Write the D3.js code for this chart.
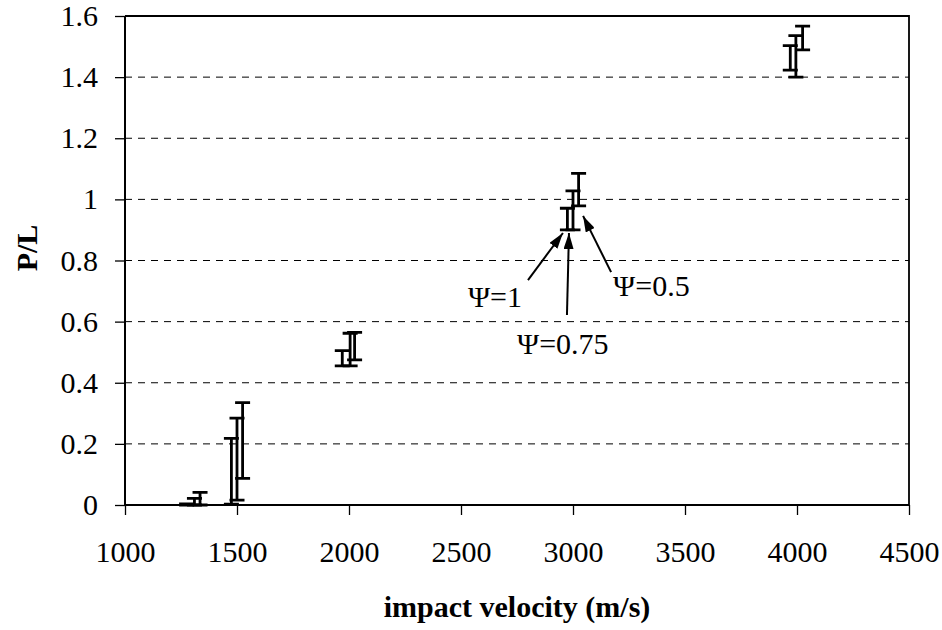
<!DOCTYPE html>
<html>
<head>
<meta charset="utf-8">
<script src="https://cdn.jsdelivr.net/npm/d3@7"></script>
</head>
<body style="margin:0">
<svg id="chart" width="942" height="630"></svg>
<script>
// Penetration depth ratio P/L versus impact velocity, one series per shape factor Ψ.
// Each series gives the velocity and the lower / upper end of its range bar.
const seriesNames = ["Ψ=1", "Ψ=0.75", "Ψ=0.5"];

const velocityPsi1 = [1275, 1475, 1970, 2975, 3970];
const lowPsi1      = [0.000, 0.003, 0.455, 0.900, 1.423];
const highPsi1     = [0.004, 0.218, 0.505, 0.971, 1.503];

const velocityPsi075 = [1310, 1500, 2005, 3000, 3995];
const lowPsi075      = [0.000, 0.016, 0.455, 0.900, 1.400];
const highPsi075     = [0.022, 0.284, 0.562, 1.028, 1.536];

const velocityPsi05 = [1335, 1525, 2025, 3025, 4025];
const lowPsi05      = [0.000, 0.087, 0.475, 0.979, 1.489];
const highPsi05     = [0.041, 0.335, 0.565, 1.085, 1.567];

const xTicks = [1000, 1500, 2000, 2500, 3000, 3500, 4000, 4500];
const yTicks = [0, 0.2, 0.4, 0.6, 0.8, 1, 1.2, 1.4, 1.6];

const xTitle = "impact velocity (m/s)";
const yTitle = "P/L";

const FONT = "'Liberation Serif'";

// Build one record per range bar.
const series = [
  { name: seriesNames[0], v: velocityPsi1, lo: lowPsi1, hi: highPsi1 },
  { name: seriesNames[1], v: velocityPsi075, lo: lowPsi075, hi: highPsi075 },
  { name: seriesNames[2], v: velocityPsi05, lo: lowPsi05, hi: highPsi05 }
];
const bars = series.flatMap(s => s.v.map((v, i) => ({ name: s.name, v, lo: s.lo[i], hi: s.hi[i] })));

const svg = d3.select("#chart");
const margin = { left: 125, right: 33, top: 16, bottom: 125 };
const W = 942, H = 630;

const x = d3.scaleLinear().domain([1000, 4500]).range([margin.left, W - margin.right]);
const y = d3.scaleLinear().domain([0, 1.6]).range([H - margin.bottom, margin.top]);

// Dashed horizontal grid lines
svg.append("g")
  .selectAll("line")
  .data(yTicks.filter(t => t > 0 && t < 1.6))
  .join("line")
  .attr("x1", x(1000)).attr("x2", x(4500))
  .attr("y1", d => y(d)).attr("y2", d => y(d))
  .attr("stroke", "#000").attr("stroke-width", 1)
  .attr("stroke-dasharray", "7,6");

// Frame top / right
svg.append("path")
  .attr("d", `M${x(1000)},${y(1.6)}H${x(4500)}V${y(0)}`)
  .attr("fill", "none").attr("stroke", "#000").attr("stroke-width", 1.8);

// Axes
const fmtY = d => d3.format("~g")(d);
const xAxis = svg.append("g")
  .attr("transform", `translate(0,${y(0)})`)
  .call(d3.axisBottom(x).tickValues(xTicks).tickSize(10).tickPadding(26).tickFormat(d3.format("d")));
const yAxis = svg.append("g")
  .attr("transform", `translate(${x(1000)},0)`)
  .call(d3.axisLeft(y).tickValues(yTicks).tickSize(10).tickPadding(17).tickFormat(fmtY));

[xAxis, yAxis].forEach(g => {
  g.attr("font-family", null).attr("font-size", null);
  g.select(".domain").attr("stroke", "#000").attr("stroke-width", 2);
  g.selectAll(".tick line").attr("stroke", "#000").attr("stroke-width", 1.3);
  g.selectAll(".tick text")
    .attr("fill", "#000")
    .style("font-family", FONT)
    .style("font-size", "30px");
});
xAxis.select(".domain").attr("d", `M${x(1000)},0H${x(4500)}`);
yAxis.select(".domain").attr("d", `M0,${y(0)}V${y(1.6)}`);

// Range bars with end caps
const capHalf = 7.5;
const barG = svg.append("g").attr("stroke", "#000").attr("stroke-width", 2.8).attr("fill", "none");
barG.selectAll("path")
  .data(bars)
  .join("path")
  .attr("d", d => {
    const cx = x(d.v), y1 = y(d.hi), y0 = y(d.lo);
    return `M${cx},${y0}V${y1}M${cx - capHalf},${y1}H${cx + capHalf}M${cx - capHalf},${y0}H${cx + capHalf}`;
  });

// Axis titles
svg.append("text")
  .attr("x", (x(1000) + x(4500)) / 2).attr("y", 617)
  .attr("text-anchor", "middle")
  .style("font-family", FONT)
  .style("font-size", "30px").style("font-weight", "bold")
  .text(xTitle);

svg.append("text")
  .attr("transform", "translate(37,248) rotate(-90)")
  .attr("text-anchor", "middle")
  .style("font-family", FONT)
  .style("font-size", "30px").style("font-weight", "bold")
  .text(yTitle);

// Annotations: labels and arrows pointing at the bars near 3000 m/s
const defs = svg.append("defs");
defs.append("marker")
  .attr("id", "arrowhead")
  .attr("markerUnits", "userSpaceOnUse")
  .attr("viewBox", "0 0 16 10")
  .attr("refX", 16).attr("refY", 5)
  .attr("markerWidth", 16).attr("markerHeight", 10)
  .attr("orient", "auto")
  .append("path").attr("d", "M0,0L16,5L0,10Z").attr("fill", "#000");

const notes = [
  { label: seriesNames[0], tv: 2531, tp: 0.648, from: [2799, 0.736], to: [2955, 0.890] },
  { label: seriesNames[1], tv: 2750, tp: 0.494, from: [2973, 0.622], to: [2982, 0.890] },
  { label: seriesNames[2], tv: 3179, tp: 0.684, from: [3170, 0.762], to: [3045, 0.946] }
];

svg.append("g").selectAll("line")
  .data(notes)
  .join("line")
  .attr("x1", d => x(d.from[0])).attr("y1", d => y(d.from[1]))
  .attr("x2", d => x(d.to[0])).attr("y2", d => y(d.to[1]))
  .attr("stroke", "#000").attr("stroke-width", 2)
  .attr("marker-end", "url(#arrowhead)");

svg.append("g").selectAll("text")
  .data(notes)
  .join("text")
  .attr("x", d => x(d.tv)).attr("y", d => y(d.tp))
  .style("font-family", FONT)
  .style("font-size", "30px")
  .text(d => d.label);
</script>
</body>
</html>
